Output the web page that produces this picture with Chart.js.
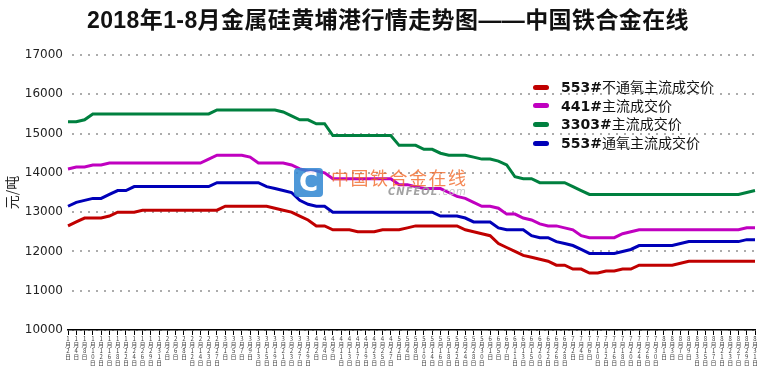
<!DOCTYPE html>
<html>
<head>
<meta charset="utf-8">
<script src="https://cdn.jsdelivr.net/npm/chart.js@4.4.1/dist/chart.umd.min.js"></script>
<style>
    body { margin: 0; background: #fff; }
    #wrap { position: relative; width: 760px; height: 366px; }
    #title { position: absolute; left: 80px; top: 1px; width: 616px; text-align: center; white-space: nowrap;
             font: bold 23px 'Liberation Sans', 'Noto Sans CJK SC', sans-serif; letter-spacing: 0.4px; color: #111; }
    #legend { position: absolute; left: 533px; top: 77px; font-family: 'Noto Sans CJK SC', sans-serif; font-size: 14px; color: #111; }
    #legend .row { height: 18.7px; line-height: 18.7px; white-space: nowrap; }
    #legend .mark { display: inline-block; width: 16px; height: 5px; border-radius: 3px; margin-right: 12px; vertical-align: middle; position: relative; top: -1px; }
    #legend b { font-family: 'DejaVu Sans', sans-serif; font-weight: bold; }
    #logo { position: absolute; left: 294px; top: 168px; width: 29px; height: 29px; border-radius: 4px; background: #2f86d2; opacity: 0.85;
            color: #fff; font: bold 26px 'DejaVu Sans', sans-serif; line-height: 29px; text-align: center; }
    #wmText { position: absolute; left: 331px; top: 164px; font: 18px 'Noto Sans CJK SC', sans-serif; letter-spacing: 1.5px; color: #f26a2a; opacity: 0.8; }
    #wmSub { position: absolute; left: 388px; top: 186px; font: italic bold 10px 'DejaVu Sans', sans-serif; letter-spacing: 1px; color: #9a9a9a; opacity: 0.9; }
    #wmSub span { font-weight: normal; color: #c0c0c0; }
</style>
</head>
<body>
<div id="wrap">
    <canvas id="priceChart"></canvas>
    <div id="title">2018年1-8月金属硅黄埔港行情走势图——中国铁合金在线</div>
    <div id="logo">C</div>
    <div id="wmText">中国铁合金在线</div>
    <div id="wmSub">CNFEOL<span>.com</span></div>
    <div id="legend"></div>
</div>
<script>
// ===================================
// Data
// ===================================

const dateLabels = [
    '1月2日', '1月4日', '1月8日', '1月10日', '1月12日', '1月16日', '1月18日', '1月22日', '1月24日', '1月26日', '1月29日', '1月31日',
    '2月2日', '2月6日', '2月8日', '2月12日', '2月14日', '2月23日', '2月27日',
    '3月1日', '3月5日', '3月7日', '3月9日', '3月13日', '3月15日', '3月19日', '3月21日', '3月23日', '3月27日', '3月29日',
    '4月2日', '4月4日', '4月9日', '4月11日', '4月13日', '4月17日', '4月19日', '4月23日', '4月25日', '4月27日',
    '5月2日', '5月4日', '5月8日', '5月10日', '5月14日', '5月16日', '5月18日', '5月22日', '5月24日', '5月28日', '5月30日',
    '6月1日', '6月5日', '6月7日', '6月11日', '6月13日', '6月15日', '6月20日', '6月22日', '6月26日', '6月28日',
    '7月2日', '7月4日', '7月6日', '7月10日', '7月12日', '7月16日', '7月18日', '7月20日', '7月24日', '7月26日', '7月30日',
    '8月1日', '8月3日', '8月7日', '8月9日', '8月13日', '8月15日', '8月17日', '8月21日', '8月23日', '8月27日', '8月29日', '8月31日'
];

// 553#不通氧
const price553n = [
    12650, 12750, 12850, 12850, 12850, 12900, 13000, 13000, 13000, 13050,
    13050, 13050, 13050, 13050, 13050, 13050, 13050, 13050, 13050, 13150,
    13150, 13150, 13150, 13150, 13150, 13100, 13050, 13000, 12900, 12800,
    12650, 12650, 12550, 12550, 12550, 12500, 12500, 12500, 12550, 12550,
    12550, 12600, 12650, 12650, 12650, 12650, 12650, 12650, 12550, 12500,
    12450, 12400, 12200, 12100, 12000, 11900, 11850, 11800, 11750, 11650,
    11650, 11550, 11550, 11450, 11450, 11500, 11500, 11550, 11550, 11650,
    11650, 11650, 11650, 11650, 11700, 11750, 11750, 11750, 11750, 11750,
    11750, 11750, 11750, 11750
];

// 441#
const price441 = [
    14100, 14150, 14150, 14200, 14200, 14250, 14250, 14250, 14250, 14250,
    14250, 14250, 14250, 14250, 14250, 14250, 14250, 14350, 14450, 14450,
    14450, 14450, 14400, 14250, 14250, 14250, 14250, 14200, 14100, 14050,
    14050, 14000, 13850, 13850, 13850, 13850, 13850, 13850, 13850, 13850,
    13700, 13700, 13650, 13600, 13600, 13600, 13500, 13400, 13350, 13250,
    13150, 13150, 13100, 12950, 12950, 12850, 12800, 12700, 12650, 12650,
    12600, 12550, 12400, 12350, 12350, 12350, 12350, 12450, 12500, 12550,
    12550, 12550, 12550, 12550, 12550, 12550, 12550, 12550, 12550, 12550,
    12550, 12550, 12600, 12600
];

// 3303#
const price3303 = [
    15300, 15300, 15350, 15500, 15500, 15500, 15500, 15500, 15500, 15500,
    15500, 15500, 15500, 15500, 15500, 15500, 15500, 15500, 15600, 15600,
    15600, 15600, 15600, 15600, 15600, 15600, 15550, 15450, 15350, 15350,
    15250, 15250, 14950, 14950, 14950, 14950, 14950, 14950, 14950, 14950,
    14700, 14700, 14700, 14600, 14600, 14500, 14450, 14450, 14450, 14400,
    14350, 14350, 14300, 14200, 13900, 13850, 13850, 13750, 13750, 13750,
    13750, 13650, 13550, 13450, 13450, 13450, 13450, 13450, 13450, 13450,
    13450, 13450, 13450, 13450, 13450, 13450, 13450, 13450, 13450, 13450,
    13450, 13450, 13500, 13550
];

// 553#通氧
const price553o = [
    13150, 13250, 13300, 13350, 13350, 13450, 13550, 13550, 13650, 13650,
    13650, 13650, 13650, 13650, 13650, 13650, 13650, 13650, 13750, 13750,
    13750, 13750, 13750, 13750, 13650, 13600, 13550, 13500, 13300, 13200,
    13150, 13150, 13000, 13000, 13000, 13000, 13000, 13000, 13000, 13000,
    13000, 13000, 13000, 13000, 13000, 12900, 12900, 12900, 12850, 12750,
    12750, 12750, 12600, 12550, 12550, 12550, 12400, 12350, 12350, 12250,
    12200, 12150, 12050, 11950, 11950, 11950, 11950, 12000, 12050, 12150,
    12150, 12150, 12150, 12150, 12200, 12250, 12250, 12250, 12250, 12250,
    12250, 12250, 12300, 12300
];

const seriesNames = ['553#不通氧主流成交价', '441#主流成交价', '3303#主流成交价', '553#通氧主流成交价'];
const seriesColors = ['#c00000', '#c000c0', '#00803f', '#0000b8'];
const yTicks = [10000, 11000, 12000, 13000, 14000, 15000, 16000, 17000];

// ===================================
// Chart
// ===================================

document.addEventListener('DOMContentLoaded', function() {
    buildLegend();
    drawChart();
});

function buildLegend() {
    const legend = document.getElementById('legend');
    legend.innerHTML = seriesNames.map((name, i) => {
        const code = name.slice(0, name.indexOf('#') + 1);
        const rest = name.slice(code.length);
        return `<div class="row"><span class="mark" style="background:${seriesColors[i]}"></span><b>${code}</b>${rest}</div>`;
    }).join('');
}

// dotted grid: vertical stripes pattern, a horizontal stroke through it shows as dots
function dotPattern() {
    const c = document.createElement('canvas');
    c.width = 8;
    c.height = 8;
    const g = c.getContext('2d');
    g.fillStyle = '#acacac';
    g.fillRect(0, 0, 2, 8);
    return g.createPattern(c, 'repeat');
}

function drawChart() {
    const ctx = document.getElementById('priceChart');
    const values = [price553n, price441, price3303, price553o];
    const dots = dotPattern();

    new Chart(ctx, {
        type: 'line',
        data: {
            labels: dateLabels,
            datasets: values.map((data, i) => ({
                label: seriesNames[i],
                data: data,
                borderColor: seriesColors[i],
                backgroundColor: seriesColors[i],
                borderWidth: 3,
                pointRadius: 0,
                tension: 0,
                fill: false
            }))
        },
        options: {
            responsive: true,
            maintainAspectRatio: false,
            animation: false,
            layout: { padding: { top: 55, right: 5 } },
            plugins: {
                legend: { display: false },
                tooltip: { enabled: false },
                title: { display: false }
            },
            scales: {
                x: {
                    offset: false,
                    grid: { drawOnChartArea: false, drawTicks: true, tickLength: 5, color: '#000' },
                    border: { display: true, color: '#000', width: 1.5 },
                    ticks: {
                        autoSkip: false,
                        maxRotation: 0,
                        minRotation: 0,
                        padding: 1,
                        color: '#444',
                        font: { family: "'Noto Sans CJK SC', sans-serif", size: 6, lineHeight: 1 },
                        callback: (v, i) => dateLabels[i].split('')
                    },
                    afterFit: s => { s.height = 36; }
                },
                y: {
                    min: yTicks[0],
                    max: yTicks[yTicks.length - 1],
                    afterBuildTicks: s => { s.ticks = yTicks.map(v => ({ value: v })); },
                    grid: { color: dots, lineWidth: 2, drawTicks: false },
                    border: { display: false },
                    ticks: {
                        padding: 5,
                        color: '#222',
                        font: { family: "'DejaVu Sans', sans-serif", size: 12 },
                        callback: v => String(v)
                    },
                    title: {
                        display: true,
                        text: '元/吨',
                        color: '#222',
                        padding: { top: 3, bottom: 0 },
                        font: { family: "'Noto Sans CJK SC', sans-serif", size: 14 }
                    },
                    afterFit: s => { s.width = 68; }
                }
            }
        }
    });
}
</script>
</body>
</html>
